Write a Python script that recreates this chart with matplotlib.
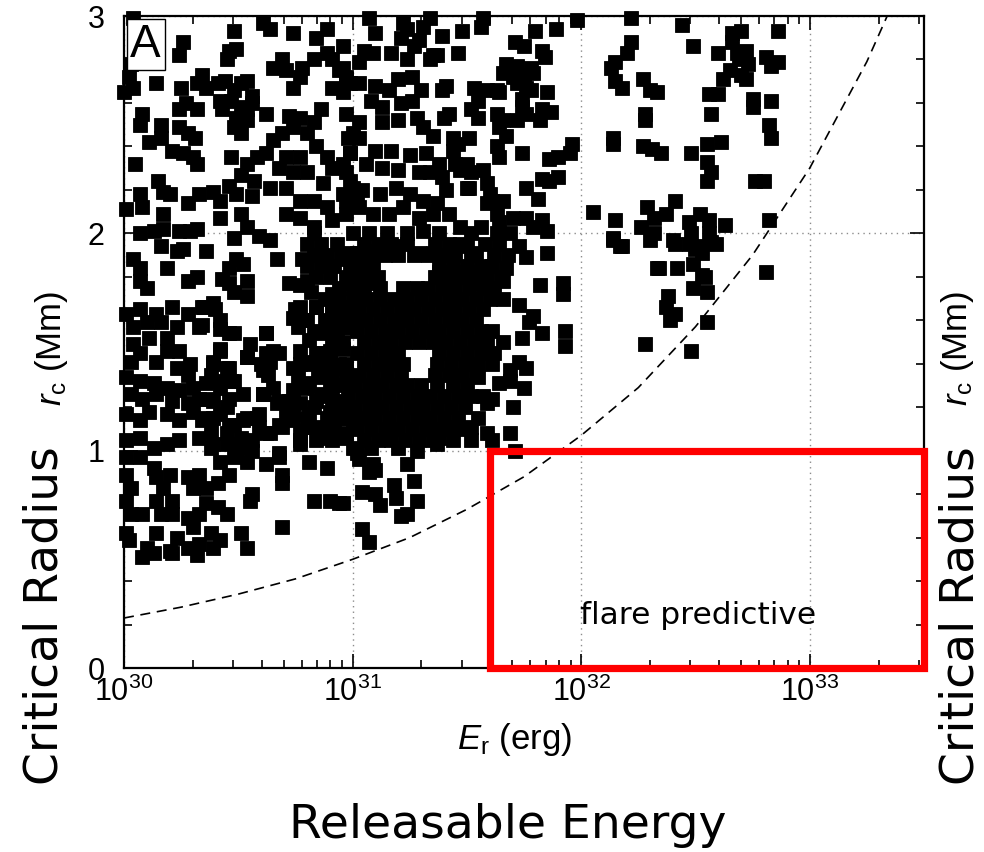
import numpy as np
import matplotlib
matplotlib.use("Agg")
import matplotlib.pyplot as plt
from matplotlib.ticker import MultipleLocator, LogLocator, NullFormatter
from matplotlib.patches import Rectangle

plt.rcParams['mathtext.fontset'] = 'custom'
plt.rcParams['mathtext.rm'] = 'Liberation Sans'
plt.rcParams['mathtext.it'] = 'Liberation Sans:italic'
plt.rcParams['font.family'] = ['Liberation Sans', 'DejaVu Sans']

# scatter data: (log10 E_r [erg], r_c [Mm])
top_left = [
    (30.04, 2.99), (30.03, 2.78), (30.02, 2.72), (30.00, 2.65), (30.04, 2.67), (30.26, 2.88), (30.24, 2.82),
    (30.48, 2.93), (30.61, 2.97), (30.64, 2.94), (30.74, 2.92), (30.84, 2.90), (30.89, 2.94), (30.46, 2.84),
    (30.49, 2.85), (30.45, 2.80), (30.14, 2.69), (30.25, 2.67), (30.32, 2.69), (30.34, 2.73), (30.36, 2.67),
    (30.41, 2.69), (30.44, 2.70), (30.48, 2.66), (30.51, 2.69), (30.54, 2.70), (30.56, 2.63), (30.47, 2.61),
    (30.51, 2.58), (30.54, 2.57), (30.56, 2.60), (30.49, 2.53), (30.54, 2.52), (30.51, 2.46), (30.48, 2.49),
    (30.43, 2.57), (30.42, 2.61), (30.69, 2.80), (30.65, 2.76), (30.71, 2.75), (30.77, 2.72), (30.74, 2.67),
    (30.78, 2.76), (30.83, 2.80), (30.89, 2.83), (30.91, 2.80), (30.94, 2.75), (30.97, 2.72), (30.91, 2.67),
    (30.96, 2.65), (30.99, 2.69), (30.08, 2.55), (30.07, 2.50), (30.16, 2.50), (30.11, 2.42), (30.16, 2.44),
    (30.21, 2.38), (30.26, 2.37), (30.30, 2.35), (30.32, 2.32), (30.24, 2.57), (30.27, 2.60), (30.32, 2.57),
    (30.24, 2.49), (30.28, 2.46), (30.31, 2.44), (30.62, 2.55), (30.72, 2.54), (30.77, 2.53), (30.83, 2.51),
    (30.80, 2.46), (30.86, 2.57), (30.74, 2.49), (30.05, 2.32), (30.47, 2.35), (30.54, 2.32), (30.58, 2.35),
    (30.62, 2.37), (30.65, 2.43), (30.69, 2.46), (30.71, 2.35), (30.77, 2.35), (30.68, 2.30), (30.74, 2.28),
    (30.80, 2.28), (30.84, 2.40), (30.89, 2.35), (30.91, 2.30), (30.97, 2.28), (30.99, 2.37), (31.00, 2.46),
    (30.15, 2.24), (30.17, 2.19), (30.20, 2.18), (30.07, 2.18), (30.08, 2.12), (30.01, 2.11), (30.28, 2.14),
    (30.33, 2.18), (30.39, 2.19), (30.42, 2.15), (30.46, 2.22), (30.49, 2.18), (30.51, 2.27), (30.57, 2.24),
    (30.56, 2.17), (30.51, 2.09), (30.54, 2.03), (30.42, 2.07), (30.17, 2.09), (30.64, 2.21), (30.71, 2.21),
    (30.77, 2.15), (30.83, 2.15), (30.71, 2.09), (30.77, 2.07), (30.83, 2.03), (30.89, 2.12), (30.91, 2.06),
    (30.97, 2.09), (30.96, 2.18), (31.00, 2.21), (31.02, 2.15), (30.87, 2.23), (30.07, 2.00), (30.13, 2.01),
    (30.17, 2.02), (30.24, 2.01), (30.29, 2.01), (30.32, 2.02), (30.48, 1.98), (30.59, 1.99), (30.64, 1.97),
    (30.16, 1.94), (30.23, 1.92), (30.26, 1.93), (30.36, 1.92), (30.04, 1.88), (30.07, 1.84), (30.19, 1.84),
    (30.67, 1.88), (30.78, 1.88), (30.46, 1.84), (30.49, 1.88), (30.83, 2.00), (30.97, 1.88), (31.02, 1.91),
    (30.07, 1.78), (30.10, 1.75), (30.28, 1.78), (30.32, 1.80), (30.46, 1.77), (30.54, 1.78), (30.80, 1.78),
    (30.72, 1.77), (30.91, 1.72), (30.99, 1.86), (30.99, 1.77),
]

low_left = [
    (30.01, 1.63), (30.07, 1.65), (30.04, 1.57), (30.10, 1.59), (30.14, 1.63), (30.21, 1.66), (30.28, 1.63),
    (30.34, 1.66), (30.39, 1.68), (30.42, 1.60), (30.48, 1.54), (30.33, 1.57), (30.23, 1.57), (30.19, 1.52),
    (30.16, 1.59), (30.04, 1.49), (30.11, 1.52), (30.03, 1.41), (30.07, 1.45), (30.14, 1.41), (30.19, 1.46),
    (30.24, 1.46), (30.23, 1.38), (30.29, 1.40), (30.28, 1.35), (30.39, 1.40), (30.42, 1.46), (30.46, 1.38),
    (30.48, 1.32), (30.54, 1.43), (30.62, 1.54), (30.55, 1.49), (30.61, 1.37), (30.64, 1.41), (30.68, 1.45),
    (30.62, 1.45), (30.74, 1.38), (30.77, 1.46), (30.81, 1.51), (30.86, 1.54), (30.91, 1.51), (30.97, 1.57),
    (30.74, 1.61), (30.77, 1.66), (30.84, 1.66), (30.91, 1.66), (30.94, 1.61), (31.00, 1.65), (30.80, 1.60),
    (30.01, 1.34), (30.07, 1.32), (30.13, 1.31), (30.19, 1.29), (30.24, 1.28), (30.30, 1.29), (30.36, 1.31),
    (30.42, 1.32), (30.03, 1.26), (30.08, 1.24), (30.14, 1.26), (30.21, 1.23), (30.28, 1.22), (30.33, 1.24),
    (30.39, 1.23), (30.46, 1.24), (30.52, 1.26), (30.61, 1.26), (30.65, 1.29), (30.68, 1.23), (30.74, 1.28),
    (30.80, 1.31), (30.86, 1.34), (30.90, 1.29), (30.97, 1.38), (31.00, 1.32), (30.91, 1.23), (30.84, 1.23),
    (30.77, 1.22), (30.71, 1.18), (30.01, 1.17), (30.07, 1.14), (30.11, 1.18), (30.19, 1.17), (30.24, 1.14),
    (30.30, 1.18), (30.34, 1.14), (30.39, 1.15), (30.46, 1.12), (30.52, 1.14), (30.58, 1.15), (30.62, 1.08),
    (30.68, 1.12), (30.74, 1.14), (30.81, 1.11), (30.89, 1.15), (30.94, 1.17), (31.00, 1.11), (30.77, 1.05),
    (30.86, 1.06), (30.91, 1.05), (30.97, 1.06), (30.01, 1.05), (30.07, 1.06), (30.13, 1.01), (30.19, 1.03),
    (30.24, 1.05), (30.33, 1.06), (30.39, 1.03), (30.45, 1.03), (30.51, 1.01), (30.56, 1.05), (30.01, 0.97),
    (30.01, 0.89), (30.03, 0.83), (30.01, 0.77), (30.03, 0.71), (30.01, 0.62), (30.02, 0.59), (30.07, 0.97),
    (30.13, 0.92), (30.14, 0.88), (30.20, 0.89), (30.17, 0.83), (30.14, 0.77), (30.21, 0.77), (30.28, 0.88),
    (30.33, 0.89), (30.30, 0.83), (30.36, 0.83), (30.41, 0.85), (30.46, 0.89), (30.48, 0.97), (30.42, 0.95),
    (30.54, 0.95), (30.56, 0.80), (30.55, 0.77), (30.62, 0.94), (30.68, 0.97), (30.69, 0.89), (30.69, 0.85),
    (30.81, 0.95), (30.89, 0.92), (30.83, 0.77), (30.90, 0.77), (30.94, 0.76), (30.36, 0.76), (30.41, 0.74),
    (30.45, 0.71), (30.33, 0.71), (30.28, 0.69), (30.21, 0.71), (30.16, 0.71), (30.08, 0.71), (30.14, 0.62),
    (30.23, 0.60), (30.30, 0.65), (30.38, 0.62), (30.42, 0.59), (30.51, 0.62), (30.54, 0.55), (30.33, 0.57),
    (30.28, 0.55), (30.20, 0.54), (30.10, 0.55), (30.08, 0.51), (30.13, 0.53), (30.69, 0.65), (30.21, 0.53),
    (30.32, 0.52), (30.39, 0.55),
]

mid_left = [
    (30.52, 1.86), (30.43, 1.79), (30.48, 1.73), (30.54, 1.71), (30.35, 1.66), (30.40, 1.65), (30.34, 1.58),
    (30.42, 1.56), (30.46, 1.54), (30.62, 1.54), (30.77, 1.76), (30.82, 1.73), (30.84, 1.66), (30.75, 1.65),
    (30.78, 1.60), (30.76, 1.57), (30.83, 1.55), (30.89, 1.57), (30.96, 1.57), (31.00, 1.78), (30.98, 1.66),
    (30.42, 1.47), (30.54, 1.43), (30.65, 1.46), (30.60, 1.40), (30.63, 1.35), (30.77, 1.40), (30.76, 1.34),
    (30.83, 1.41), (30.86, 1.45), (30.90, 1.46), (30.96, 1.47), (30.91, 1.38), (30.97, 1.40), (31.00, 1.34),
    (30.39, 1.41), (30.38, 1.35), (30.45, 1.38), (30.47, 1.32), (30.42, 1.29), (30.36, 1.24), (30.45, 1.20),
    (30.61, 1.26), (30.59, 1.17), (30.67, 1.22), (30.72, 1.23), (30.80, 1.29), (30.86, 1.26), (30.91, 1.26),
    (30.97, 1.23), (30.74, 1.17), (30.81, 1.17), (30.90, 1.18), (30.96, 1.15), (30.36, 1.15), (30.42, 1.17),
    (30.48, 1.12), (30.54, 1.15), (30.38, 1.09), (30.45, 1.08), (30.51, 1.06), (30.59, 1.11), (30.64, 1.08),
    (30.69, 1.11), (30.77, 1.09), (30.83, 1.11), (30.91, 1.14), (30.99, 1.17), (30.38, 1.01), (30.49, 0.99),
    (30.56, 1.00), (30.68, 0.99), (30.77, 1.03), (30.84, 1.05), (30.97, 1.08), (31.02, 0.99),
]

mid_band = [
    (31.07, 2.99), (31.22, 2.97), (31.24, 2.94), (31.21, 2.90), (31.34, 2.99), (31.31, 2.95), (31.29, 2.89),
    (31.27, 2.86), (31.24, 2.80), (31.17, 2.83), (31.05, 2.84), (31.09, 2.83), (31.10, 2.92), (31.57, 2.99),
    (31.56, 2.95), (31.48, 2.93), (31.39, 2.91), (31.46, 2.83), (31.35, 2.82), (31.34, 2.80), (31.98, 2.98),
    (32.22, 2.99), (31.80, 2.93), (31.89, 2.94), (31.71, 2.88), (31.75, 2.86), (31.83, 2.84), (31.84, 2.81),
    (31.67, 2.78), (31.72, 2.77), (31.78, 2.76), (31.66, 2.74), (31.70, 2.72), (31.75, 2.73), (31.79, 2.74),
    (31.72, 2.69), (31.76, 2.67), (31.78, 2.66), (31.85, 2.65), (31.74, 2.62), (31.74, 2.58), (31.76, 2.55),
    (31.83, 2.57), (31.87, 2.56), (31.82, 2.52), (31.72, 2.52), (31.63, 2.66), (31.59, 2.66), (31.64, 2.65),
    (31.55, 2.61), (31.52, 2.57), (31.55, 2.53), (31.63, 2.55), (31.66, 2.52), (31.64, 2.49), (31.67, 2.45),
    (31.63, 2.40), (31.64, 2.35), (31.53, 2.67), (31.41, 2.68), (31.39, 2.66), (31.42, 2.55), (31.40, 2.53),
    (31.44, 2.44), (31.46, 2.41), (31.51, 2.44), (31.44, 2.38), (32.15, 2.79), (32.13, 2.76), (32.20, 2.83),
    (32.22, 2.88), (32.15, 2.70), (32.18, 2.67), (32.27, 2.71), (32.30, 2.66), (32.33, 2.65), (32.28, 2.55),
    (32.28, 2.52), (32.14, 2.44), (32.14, 2.41), (32.27, 2.40), (32.31, 2.39), (31.96, 2.41), (31.95, 2.37),
    (31.90, 2.35), (31.86, 2.34), (31.74, 2.37), (31.90, 2.26), (31.83, 2.25), (31.86, 2.24), (31.76, 2.21),
    (31.81, 2.16), (32.05, 2.10), (32.15, 2.06), (32.14, 1.98), (32.18, 1.94), (32.26, 2.03), (32.29, 2.12),
    (32.32, 2.07), (32.30, 1.97), (32.33, 1.84), (31.85, 1.91), (31.82, 1.76), (31.92, 1.77), (31.76, 2.07),
    (31.83, 2.06), (31.85, 2.01), (31.79, 2.03), (31.70, 2.07), (31.69, 2.00), (31.73, 1.94), (31.76, 1.89),
    (31.67, 1.84), (31.66, 1.78), (31.56, 2.03), (31.63, 2.09), (31.66, 2.15), (31.61, 2.15), (31.59, 2.14),
    (31.64, 2.05), (31.63, 2.00), (31.51, 2.21), (31.52, 2.28), (31.57, 2.29), (31.59, 2.23), (31.47, 2.29),
    (31.45, 2.32), (31.50, 2.32), (31.37, 2.82), (31.03, 2.79), (30.96, 2.86), (30.96, 2.76), (31.26, 2.72),
    (31.20, 2.71), (31.10, 2.68), (31.03, 2.69), (30.97, 2.71), (31.30, 2.66), (31.16, 2.66), (31.08, 2.61),
    (31.13, 2.58), (31.21, 2.60), (31.26, 2.61), (30.97, 2.55), (31.03, 2.51), (31.13, 2.51), (31.20, 2.52),
    (31.28, 2.53), (31.31, 2.49), (31.35, 2.45), (30.98, 2.44), (31.03, 2.44), (30.99, 2.37), (31.10, 2.38),
    (31.17, 2.38), (31.25, 2.36), (31.32, 2.37), (31.38, 2.32), (30.96, 2.32), (31.06, 2.32), (31.13, 2.30),
    (31.20, 2.29), (31.29, 2.28), (31.34, 2.28), (31.39, 2.26), (30.99, 2.24), (31.04, 2.20), (31.12, 2.18),
    (31.19, 2.21), (31.25, 2.18), (31.31, 2.15), (31.37, 2.14), (31.41, 2.20), (31.50, 2.21), (31.60, 2.18),
    (30.97, 2.15), (31.03, 2.12), (31.09, 2.09), (31.16, 2.09), (31.22, 2.12), (31.29, 2.07), (31.35, 2.09),
    (31.42, 2.09), (31.47, 2.03), (31.52, 2.00), (31.00, 2.00), (31.07, 2.00), (31.15, 2.00), (31.24, 2.00),
    (31.31, 2.01), (31.38, 2.00), (30.99, 1.91), (31.06, 1.92), (31.13, 1.91), (31.19, 1.94), (31.29, 1.91),
    (31.35, 1.91), (31.50, 1.94), (31.54, 1.91), (30.97, 1.80), (31.03, 1.80), (31.10, 1.77), (31.22, 1.75),
    (31.28, 1.75), (31.38, 1.82), (31.42, 1.78), (31.50, 1.82), (31.52, 1.77),
]

# densest part of the cloud, listed row by row: (r_c, [log10 E_r, ...])
core_rows = [
    (1.95, [30.80, 30.86, 30.93, 31.05, 31.11, 31.17, 31.24, 31.36, 31.42, 31.47, 31.58, 31.64]),
    (1.90, [30.83, 30.89, 30.95, 31.01, 31.08, 31.14, 31.20, 31.27, 31.33, 31.40, 31.45, 31.52, 31.62, 31.68]),
    (1.85, [30.80, 30.86, 30.92, 31.04, 31.09, 31.38, 31.44, 31.50, 31.56, 31.61]),
    (1.80, [30.84, 30.90, 31.00, 31.06, 31.11, 31.36, 31.41, 31.47, 31.53, 31.59, 31.65]),
    (1.75, [30.94, 31.00, 31.05, 31.12, 31.33, 31.39, 31.45, 31.51, 31.57, 31.62]),
    (1.70, [30.88, 30.94, 31.00, 31.06, 31.12, 31.18, 31.24, 31.30, 31.36, 31.42, 31.48, 31.54, 31.60, 31.66]),
    (1.65, [30.91, 30.97, 31.03, 31.09, 31.15, 31.21, 31.27, 31.33, 31.39, 31.45, 31.51, 31.57]),
    (1.60, [30.88, 30.94, 31.00, 31.06, 31.12, 31.18, 31.24, 31.30, 31.36, 31.42, 31.48, 31.54]),
    (1.55, [30.93, 31.02, 31.08, 31.14, 31.20, 31.26, 31.32, 31.38, 31.44, 31.50, 31.56, 31.61]),
    (1.50, [30.96, 31.05, 31.11, 31.17, 31.23, 31.29, 31.35, 31.41, 31.47, 31.53, 31.59, 31.66]),
    (1.45, [30.84, 30.90, 31.02, 31.08, 31.14, 31.20, 31.38, 31.44, 31.50, 31.56, 31.62]),
    (1.40, [30.82, 30.88, 30.94, 31.05, 31.11, 31.17, 31.22, 31.37, 31.43, 31.49, 31.55, 31.61]),
    (1.35, [30.85, 30.91, 30.97, 31.03, 31.09, 31.15, 31.21, 31.36, 31.42, 31.48, 31.54]),
    (1.30, [30.81, 30.95, 31.01, 31.07, 31.13, 31.19, 31.24, 31.30, 31.37, 31.44, 31.50]),
    (1.25, [30.88, 30.98, 31.04, 31.10, 31.16, 31.22, 31.28, 31.34, 31.40, 31.46, 31.52, 31.57]),
    (1.20, [30.83, 30.93, 31.01, 31.07, 31.13, 31.19, 31.25, 31.31, 31.37, 31.43, 31.49]),
    (1.15, [30.80, 30.97, 31.04, 31.10, 31.16, 31.22, 31.28, 31.34, 31.40, 31.46]),
    (1.10, [30.86, 30.92, 31.02, 31.08, 31.14, 31.20, 31.26, 31.32, 31.38, 31.47]),
    (1.05, [31.05, 31.11, 31.17, 31.23, 31.29, 31.35, 31.44, 31.52]),
    (1.01, [31.00, 31.08, 31.20]),
]

tail = [
    (31.92, 1.72), (31.73, 1.67), (31.79, 1.62), (31.77, 1.59), (31.83, 1.54), (31.74, 1.52), (31.93, 1.55),
    (31.93, 1.48), (31.73, 1.41), (31.76, 1.38), (31.69, 1.37), (31.69, 1.32), (31.75, 1.29), (31.70, 1.20),
    (31.59, 1.22), (31.61, 1.24), (31.55, 1.34), (31.64, 1.31), (31.69, 1.08), (31.71, 1.00), (31.59, 1.08),
    (31.61, 1.05), (31.52, 1.11), (31.55, 1.15), (31.42, 1.11), (31.37, 1.03), (31.38, 1.06), (31.28, 1.00),
    (31.24, 0.94), (31.03, 0.96), (31.09, 0.94), (31.07, 0.90), (31.10, 0.91), (31.18, 0.84), (31.27, 0.86),
    (31.28, 0.77), (31.19, 0.78), (31.21, 0.70), (31.24, 0.71), (31.04, 0.81), (31.10, 0.80), (31.12, 0.75),
    (30.96, 0.76), (31.04, 0.64), (31.07, 0.58),
]

right_cluster = [
    (32.44, 2.96), (32.49, 2.86), (32.66, 2.92), (32.70, 2.93), (32.66, 2.88), (32.60, 2.83), (32.68, 2.83),
    (32.72, 2.84), (32.69, 2.80), (32.73, 2.78), (32.65, 2.75), (32.62, 2.71), (32.70, 2.73), (32.72, 2.71),
    (32.81, 2.81), (32.83, 2.77), (32.86, 2.79), (32.86, 2.93), (32.56, 2.64), (32.60, 2.64), (32.57, 2.55),
    (32.75, 2.62), (32.75, 2.58), (32.83, 2.61), (32.82, 2.50), (32.83, 2.44), (32.35, 2.37), (32.48, 2.37),
    (32.55, 2.41), (32.61, 2.42), (32.55, 2.33), (32.57, 2.28), (32.55, 2.24), (32.76, 2.24), (32.80, 2.24),
    (32.41, 2.15), (32.37, 2.09), (32.32, 2.00), (32.40, 1.97), (32.52, 2.09), (32.47, 2.05), (32.48, 2.00),
    (32.56, 2.06), (32.56, 2.00), (32.59, 1.95), (32.51, 1.94), (32.53, 1.91), (32.63, 2.04), (32.82, 2.06),
    (32.34, 1.84), (32.42, 1.84), (32.49, 1.86), (32.53, 1.81), (32.49, 1.75), (32.55, 1.73), (32.38, 1.71),
    (32.81, 1.82), (32.17, 1.94), (32.14, 1.97), (32.41, 1.95), (32.47, 1.95), (32.50, 1.93), (32.57, 1.96),
    (32.37, 1.66), (32.41, 1.63), (32.39, 1.60), (32.55, 1.59), (32.28, 1.49), (32.48, 1.46), (32.54, 1.80),
]

# dashed threshold curve, read at quarter-decade steps
curve_logE = [30.0, 30.25, 30.5, 30.75, 31.0, 31.25, 31.5, 31.75, 32.0, 32.25, 32.5, 32.75, 33.0, 33.25, 33.5]
curve_r = [0.23, 0.28, 0.34, 0.41, 0.50, 0.60, 0.73, 0.88, 1.07, 1.29, 1.57, 1.90, 2.30, 2.79, 3.38]

# "flare predictive" box
box_logE = (31.6, 33.5)
box_r = (0.0, 1.0)

pts = top_left + low_left + mid_left + mid_band + tail + right_cluster
for r, row in core_rows:
    pts += [(e, r) for e in row]
pts = np.array(pts)
E = 10 ** pts[:, 0]
rc = pts[:, 1]

fig = plt.figure(figsize=(9.84, 8.52), dpi=100)
ax = fig.add_axes([124 / 984, 184 / 852, 800 / 984, 652 / 852])

ax.plot(E, rc, ls='none', marker='s', ms=9.4, mfc='black', mec='black', mew=0.6,
        zorder=3, clip_on=False)
ax.plot(10 ** np.array(curve_logE), curve_r, color='black', lw=1.2, ls=(0, (6, 4)), zorder=2)

ax.set_xscale('log')
ax.set_xlim(1e30, 10 ** 33.5)
ax.set_ylim(0, 3)
ax.set_yticks([0, 1, 2, 3])
ax.yaxis.set_minor_locator(MultipleLocator(0.2))
ax.xaxis.set_minor_locator(LogLocator(base=10, subs=np.arange(2, 10)))
ax.xaxis.set_minor_formatter(NullFormatter())
ax.tick_params(which='both', direction='in', top=True, right=True, width=1.2, labelsize=22)
ax.tick_params(which='major', length=10)
ax.tick_params(which='minor', length=6)
ax.tick_params(axis='y', pad=14)
ax.tick_params(axis='x', pad=6)
for s in ax.spines.values():
    s.set_linewidth(1.6)
ax.grid(True, which='major', color='0.55', lw=1.0, ls=(0, (1, 3)), zorder=1)

ax.text(0.008, 0.99, 'A', transform=ax.transAxes, ha='left', va='top', fontsize=33,
        family='Liberation Sans', zorder=6,
        bbox=dict(boxstyle='square,pad=0.08', fc='white', ec='black', lw=1.0))

rect = Rectangle((10 ** box_logE[0], box_r[0]), 10 ** box_logE[1] - 10 ** box_logE[0], box_r[1] - box_r[0],
                 fill=False, edgecolor='#ff0000', lw=5.2, clip_on=False, zorder=5)
ax.add_patch(rect)
ax.text(10 ** 32.51, 0.24, 'flare predictive', ha='center', va='center', fontsize=22.5,
        family='DejaVu Sans', zorder=6)

# axis labels
fig.text(515 / 984, 1 - 740 / 852, r'$E_{\mathrm{r}}$ (erg)', ha='center', va='center', fontsize=25)
fig.text(51 / 984, 1 - 348 / 852, r'$r_{\mathrm{c}}$ (Mm)', ha='center', va='center', fontsize=25, rotation=90)
fig.text(958 / 984, 1 - 348 / 852, r'$r_{\mathrm{c}}$ (Mm)', ha='center', va='center', fontsize=25, rotation=90)

fig.text(45 / 984, 1 - 616 / 852, 'Critical Radius', ha='center', va='center', fontsize=34,
         family='DejaVu Sans', rotation=90)
fig.text(961 / 984, 1 - 616 / 852, 'Critical Radius', ha='center', va='center', fontsize=34,
         family='DejaVu Sans', rotation=90)
fig.text(508 / 984, 1 - 825 / 852, 'Releasable Energy', ha='center', va='center', fontsize=34,
         family='DejaVu Sans')

fig.savefig('out.png', dpi=100)
